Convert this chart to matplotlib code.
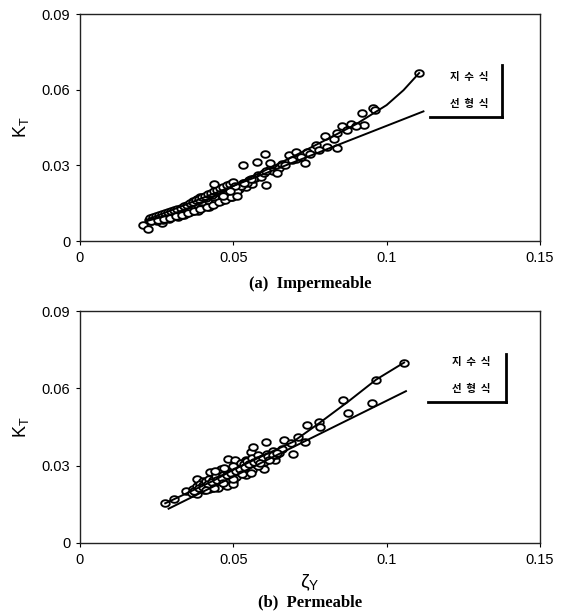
import numpy as np
import matplotlib
matplotlib.use('Agg')
import matplotlib.pyplot as plt

plt.rcParams['font.family'] = ['Liberation Sans', 'Noto Sans CJK KR', 'DejaVu Sans']
plt.rcParams['mathtext.default'] = 'regular'

#############################################################################
# (a) impermeable : measured K_T vs zeta_Y

imp_x = [0.0207, 0.0221, 0.0266,
         0.0225, 0.0230, 0.0235, 0.0240, 0.0245, 0.0250, 0.0255, 0.0260,
         0.0265, 0.0270, 0.0275, 0.0280, 0.0285, 0.0290, 0.0295, 0.0300,
         0.0305, 0.0310, 0.0315, 0.0320, 0.0325, 0.0330, 0.0335, 0.0340,
         0.0345, 0.0350, 0.0355, 0.0360, 0.0365, 0.0370, 0.0375, 0.0380,
         0.0385, 0.0390, 0.0395, 0.0400, 0.0405, 0.0410, 0.0415, 0.0420,
         0.0425, 0.0430, 0.0435, 0.0440, 0.0445, 0.0450, 0.0455, 0.0460,
         0.0465, 0.0470, 0.0475, 0.0480, 0.0490, 0.0500, 0.0510, 0.0520,
         0.0530, 0.0540, 0.0550, 0.0560, 0.0570, 0.0580, 0.0590, 0.0600,
         0.0620, 0.0630, 0.0650,
         0.0300, 0.0320, 0.0340, 0.0360, 0.0380, 0.0400, 0.0420, 0.0440,
         0.0460, 0.0480, 0.0380, 0.0390, 0.0370, 0.0410, 0.0430, 0.0450,
         0.0470, 0.0490, 0.0495, 0.0500, 0.0250, 0.0270, 0.0290, 0.0310,
         0.0330, 0.0350, 0.0420, 0.0440, 0.0460, 0.0480, 0.0395, 0.0385,
         0.0228, 0.0238, 0.0248, 0.0258, 0.0268, 0.0278, 0.0288, 0.0298,
         0.0308, 0.0318, 0.0328, 0.0338, 0.0348, 0.0358, 0.0368, 0.0378,
         0.0388, 0.0398, 0.0408, 0.0418, 0.0428, 0.0438, 0.0448, 0.0458,
         0.0468, 0.0478, 0.0488, 0.0498, 0.0233, 0.0253, 0.0273, 0.0293,
         0.0313, 0.0333, 0.0353, 0.0373, 0.0393, 0.0413, 0.0433, 0.0453,
         0.0473, 0.0493, 0.0513, 0.0525, 0.0545, 0.0565,
         0.0436, 0.0530, 0.0576, 0.0602, 0.0608, 0.0621, 0.0536, 0.0606,
         0.0659, 0.0681, 0.0705, 0.0734, 0.0740, 0.0769, 0.0798, 0.0829,
         0.0838, 0.0856, 0.0885, 0.0920, 0.0925, 0.0955, 0.0961, 0.1106,
         0.0804, 0.0838, 0.0705, 0.0641, 0.0559, 0.0507, 0.0512, 0.0466,
         0.0490, 0.0670, 0.0690, 0.0720, 0.0750, 0.0780, 0.0870, 0.0900]
imp_y = [0.0062, 0.0046, 0.0070,
         0.0085, 0.0078, 0.0092, 0.0083, 0.0090, 0.0080, 0.0096, 0.0088,
         0.0093, 0.0085, 0.0101, 0.0092, 0.0098, 0.0089, 0.0105, 0.0096,
         0.0110, 0.0100, 0.0106, 0.0097, 0.0115, 0.0105, 0.0112, 0.0102,
         0.0120, 0.0110, 0.0125, 0.0114, 0.0130, 0.0118, 0.0135, 0.0123,
         0.0142, 0.0128, 0.0150, 0.0135, 0.0158, 0.0140, 0.0163, 0.0145,
         0.0170, 0.0152, 0.0175, 0.0160, 0.0182, 0.0165, 0.0190, 0.0172,
         0.0198, 0.0178, 0.0205, 0.0185, 0.0212, 0.0195, 0.0220, 0.0205,
         0.0230, 0.0215, 0.0240, 0.0228, 0.0250, 0.0262, 0.0255, 0.0270,
         0.0285, 0.0278, 0.0290,
         0.0115, 0.0120, 0.0128, 0.0135, 0.0145, 0.0152, 0.0160, 0.0172,
         0.0185, 0.0200, 0.0165, 0.0175, 0.0160, 0.0170, 0.0182, 0.0195,
         0.0210, 0.0222, 0.0175, 0.0215, 0.0095, 0.0100, 0.0108, 0.0115,
         0.0125, 0.0130, 0.0135, 0.0150, 0.0160, 0.0170, 0.0130, 0.0120,
         0.0090, 0.0094, 0.0098, 0.0102, 0.0106, 0.0110, 0.0114, 0.0118,
         0.0122, 0.0127, 0.0132, 0.0137, 0.0143, 0.0149, 0.0155, 0.0161,
         0.0167, 0.0174, 0.0180, 0.0186, 0.0192, 0.0198, 0.0204, 0.0210,
         0.0216, 0.0222, 0.0228, 0.0234, 0.0080, 0.0084, 0.0088, 0.0093,
         0.0098, 0.0104, 0.0110, 0.0118, 0.0126, 0.0134, 0.0143, 0.0153,
         0.0163, 0.0175, 0.0200, 0.0218, 0.0232, 0.0244,
         0.0228, 0.0300, 0.0315, 0.0344, 0.0224, 0.0308, 0.0232, 0.0278,
         0.0307, 0.0341, 0.0351, 0.0308, 0.0351, 0.0380, 0.0417, 0.0404,
         0.0367, 0.0457, 0.0463, 0.0506, 0.0459, 0.0529, 0.0519, 0.0666,
         0.0371, 0.0430, 0.0324, 0.0271, 0.0245, 0.0218, 0.0179, 0.0179,
         0.0199, 0.0300, 0.0320, 0.0335, 0.0345, 0.0360, 0.0440, 0.0455]

# fitted curves (exponential-type and linear)
imp_exp_x = [0.022, 0.030, 0.040, 0.050, 0.060, 0.070, 0.080, 0.090, 0.100, 0.1055, 0.1106]
imp_exp_y = [0.0080, 0.0106, 0.0152, 0.0218, 0.0278, 0.0338, 0.0400, 0.0463, 0.0539, 0.0598, 0.0666]
imp_lin_x = [0.022, 0.112]
imp_lin_y = [0.0085, 0.0514]

#############################################################################
# (b) permeable

per_x = [0.0278, 0.0307, 0.0345, 0.0383, 0.0401, 0.0424, 0.0442, 0.0459,
         0.0483, 0.0506, 0.0541, 0.0559, 0.0565, 0.0606, 0.0600, 0.0635,
         0.0665, 0.0688, 0.0694, 0.0711, 0.0735, 0.0741, 0.0779, 0.0782,
         0.0858, 0.0875, 0.0952, 0.0966, 0.1057,
         0.0365, 0.0370, 0.0375, 0.0380, 0.0385, 0.0390, 0.0395, 0.0400,
         0.0405, 0.0410, 0.0415, 0.0420, 0.0425, 0.0430, 0.0435, 0.0440,
         0.0445, 0.0450, 0.0455, 0.0460, 0.0465, 0.0470, 0.0475, 0.0480,
         0.0485, 0.0490, 0.0495, 0.0500, 0.0505, 0.0510, 0.0515, 0.0520,
         0.0525, 0.0530, 0.0535, 0.0540, 0.0545, 0.0550, 0.0560, 0.0570,
         0.0580, 0.0590, 0.0600, 0.0610, 0.0620, 0.0630, 0.0640, 0.0650,
         0.0660, 0.0540, 0.0420, 0.0450, 0.0480, 0.0500, 0.0380, 0.0440,
         0.0470, 0.0500, 0.0560, 0.0580,
         0.0372, 0.0388, 0.0402, 0.0418, 0.0432, 0.0448, 0.0462, 0.0478,
         0.0492, 0.0508, 0.0522, 0.0538, 0.0552, 0.0568, 0.0582, 0.0598,
         0.0612, 0.0628, 0.0642, 0.0412, 0.0438, 0.0468, 0.0498, 0.0528,
         0.0558, 0.0588, 0.0618]
per_y = [0.0157, 0.0170, 0.0200, 0.0249, 0.0242, 0.0275, 0.0271, 0.0288,
         0.0327, 0.0321, 0.0321, 0.0353, 0.0373, 0.0392, 0.0288, 0.0321,
         0.0399, 0.0386, 0.0347, 0.0412, 0.0392, 0.0458, 0.0471, 0.0451,
         0.0553, 0.0506, 0.0545, 0.0634, 0.0700,
         0.0195, 0.0210, 0.0200, 0.0220, 0.0205, 0.0230, 0.0215, 0.0225,
         0.0205, 0.0240, 0.0220, 0.0250, 0.0230, 0.0215, 0.0245, 0.0225,
         0.0260, 0.0235, 0.0250, 0.0225, 0.0265, 0.0240, 0.0255, 0.0230,
         0.0270, 0.0245, 0.0260, 0.0240, 0.0285, 0.0255, 0.0300, 0.0275,
         0.0310, 0.0290, 0.0305, 0.0280, 0.0320, 0.0295, 0.0330, 0.0310,
         0.0340, 0.0325, 0.0315, 0.0345, 0.0330, 0.0355, 0.0340, 0.0350,
         0.0365, 0.0265, 0.0210, 0.0215, 0.0220, 0.0230, 0.0190, 0.0280,
         0.0290, 0.0300, 0.0285, 0.0300,
         0.0202, 0.0212, 0.0218, 0.0228, 0.0236, 0.0244, 0.0252, 0.0262,
         0.0270, 0.0278, 0.0288, 0.0296, 0.0306, 0.0316, 0.0322, 0.0330,
         0.0336, 0.0342, 0.0348, 0.0205, 0.0215, 0.0232, 0.0250, 0.0268,
         0.0272, 0.0312, 0.0322]

per_exp_x = [0.0278, 0.0307, 0.0366, 0.0436, 0.0495, 0.0553, 0.0623, 0.0694, 0.0779, 0.0875, 0.0966, 0.1057]
per_exp_y = [0.0154, 0.0170, 0.0203, 0.0242, 0.0281, 0.0314, 0.0353, 0.0392, 0.0464, 0.0549, 0.0634, 0.0700]
per_lin_x = [0.0289, 0.1063]
per_lin_y = [0.0133, 0.0589]

legend_labels = ['지  수  식', '선  형  식']

#############################################################################

# slightly flattened open circle, like the plotter symbol
t = np.linspace(0, 2*np.pi, 40)
ring = np.column_stack((1.3*np.cos(t), np.sin(t)))


def panel(ax, x, y, ex, ey, lx, ly):
    ax.plot(x, y, linestyle='none', marker=ring, markersize=6.2,
            markerfacecolor='white', markeredgecolor='black', markeredgewidth=1.35)
    ax.plot(ex, ey, color='black', linewidth=1.4)
    ax.plot(lx, ly, color='black', linewidth=1.4)

    ax.set_xlim(0, 0.15)
    ax.set_ylim(0, 0.09)
    ax.set_xticks([0, 0.05, 0.1, 0.15])
    ax.set_xticklabels(['0', '0.05', '0.1', '0.15'])
    ax.set_yticks([0, 0.03, 0.06, 0.09])
    ax.set_yticklabels(['0', '0.03', '0.06', '0.09'])
    ax.tick_params(direction='out', length=3, width=0.8, labelsize=10.5, pad=4)
    for s in ax.spines.values():
        s.set_linewidth(1.0)
        s.set_color('#222222')
    ax.set_ylabel('K$_T$', fontsize=13, labelpad=8)


def legend_box(ax, x0, x1, ytop, ybot, ytxt):
    # only the right and bottom edges of the box are drawn
    ax.plot([x1, x1], [ytop, ybot], color='black', linewidth=2.0, clip_on=False)
    ax.plot([x0, x1], [ybot, ybot], color='black', linewidth=2.0, clip_on=False)
    xc = x1 - (x1 - x0)*0.45
    for lab, yt in zip(legend_labels, ytxt):
        ax.text(xc, yt, lab, ha='center', va='center', fontsize=7.5,
                family=['Noto Sans CJK KR', 'DejaVu Sans'], fontweight='bold')


fig = plt.figure(figsize=(5.62, 6.15), dpi=100)

ax1 = fig.add_axes([0.1423, 0.6081, 0.8185, 0.3691])
panel(ax1, imp_x, imp_y, imp_exp_x, imp_exp_y, imp_lin_x, imp_lin_y)
legend_box(ax1, 0.1141, 0.1376, 0.0698, 0.0492, [0.0651, 0.0544])
fig.text(0.552, 0.538, '(a)  Impermeable', ha='center', va='center',
         family='Liberation Serif', fontweight='bold', fontsize=12)

ax2 = fig.add_axes([0.1423, 0.1171, 0.8185, 0.3772])
panel(ax2, per_x, per_y, per_exp_x, per_exp_y, per_lin_x, per_lin_y)
legend_box(ax2, 0.1135, 0.1389, 0.0733, 0.0547, [0.0702, 0.0597])
ax2.set_xlabel(r'$\zeta_Y$', fontsize=14, labelpad=4)
fig.text(0.552, 0.021, '(b)  Permeable', ha='center', va='center',
         family='Liberation Serif', fontweight='bold', fontsize=12)

plt.savefig('out.png', dpi=100)
